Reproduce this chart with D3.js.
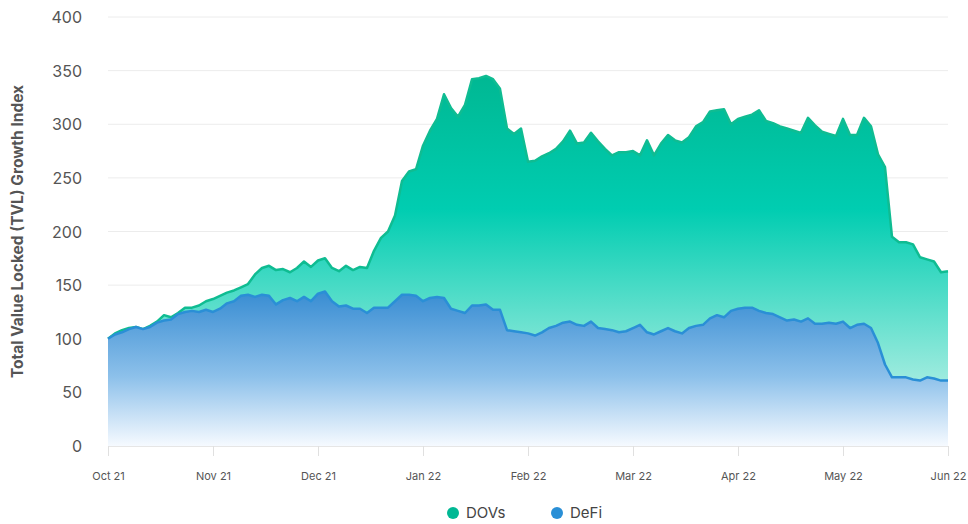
<!DOCTYPE html>
<html>
<head>
<meta charset="utf-8">
<script src="https://cdn.jsdelivr.net/npm/d3@7"></script>
<style>
  body { margin: 0; background: #fff; }
  text { font-family: Inter, "Noto Sans", sans-serif; }
</style>
</head>
<body>
<div id="chart"></div>
<script>
// month labels, one every 15 samples
const months = ["Oct 21", "Nov 21", "Dec 21", "Jan 22", "Feb 22", "Mar 22", "Apr 22", "May 22", "Jun 22"];
const yTicks = [0, 50, 100, 150, 200, 250, 300, 350, 400];

// growth index, sampled evenly from Oct 21 to Jun 22
const dovs = [
  100, 105, 108, 110, 111, 109, 112, 116, 122, 120, 124, 129, 129, 131, 135,
  137, 140, 143, 145, 148, 151, 160, 166, 168, 164, 165, 162, 166, 172, 167,
  173, 175, 166, 163, 168, 164, 167, 166, 182, 194, 200, 215, 247, 256, 258,
  280, 294, 305, 328, 315, 307, 318, 342, 343, 345, 342, 333, 296, 291, 296,
  265, 266, 270, 273, 277, 284, 294, 282, 283, 292, 284, 277, 271, 274, 274,
  275, 271, 285, 271, 282, 290, 285, 283, 288, 298, 302, 312, 313, 314, 300,
  305, 307, 309, 313, 303, 301, 298, 296, 294, 292, 306, 299, 293, 291, 289,
  305, 290, 290, 306, 298, 272, 260, 195, 190, 190, 188, 176, 174, 172, 162,
  163
];
const defi = [
  100, 104, 106, 109, 111, 109, 111, 115, 117, 118, 123, 125, 126, 125, 127,
  125, 128, 133, 135, 140, 141, 139, 141, 140, 132, 136, 138, 135, 139, 135,
  142, 144, 135, 130, 131, 128, 128, 124, 129, 129, 129, 135, 141, 141, 140,
  135, 138, 139, 138, 128, 126, 124, 131, 131, 132, 127, 127, 108, 107, 106,
  105, 103, 106, 110, 112, 115, 116, 113, 112, 116, 110, 109, 108, 106, 107,
  110, 113, 106, 104, 107, 110, 107, 105, 110, 112, 113, 119, 122, 120, 126,
  128, 129, 129, 126, 124, 123, 120, 117, 118, 116, 119, 114, 114, 115, 114,
  116, 110, 113, 114, 110, 96, 76, 64, 64, 64, 62, 61, 64, 63, 61,
  61
];

let width = 968, height = 524;
let margin = {top: 17, right: 20, bottom: 78, left: 108};

let svg = d3.select("#chart")
  .append("svg")
    .attr("width", width)
    .attr("height", height);

const X_SCALE = d3.scaleLinear()
  .domain([0, dovs.length - 1])
  .range([margin.left, 948]);

const Y_SCALE = d3.scaleLinear()
  .domain([0, 400])
  .range([446, margin.top]);

// gradients
let defs = svg.append("defs");
let g1 = defs.append("linearGradient")
  .attr("id", "gradDovs")
  .attr("gradientUnits", "userSpaceOnUse")
  .attr("x1", 0).attr("x2", 0)
  .attr("y1", Y_SCALE(345)).attr("y2", Y_SCALE(0));
g1.append("stop").attr("offset", "0%").attr("stop-color", "#00b893");
g1.append("stop").attr("offset", "36%").attr("stop-color", "#00cdb1");
g1.append("stop").attr("offset", "100%").attr("stop-color", "#dbf7f0");

let g2 = defs.append("linearGradient")
  .attr("id", "gradDefi")
  .attr("gradientUnits", "userSpaceOnUse")
  .attr("x1", 0).attr("x2", 0)
  .attr("y1", Y_SCALE(145)).attr("y2", Y_SCALE(0));
g2.append("stop").attr("offset", "0%").attr("stop-color", "#378cd2");
g2.append("stop").attr("offset", "55%").attr("stop-color", "#8cc0ea");
g2.append("stop").attr("offset", "100%").attr("stop-color", "#f6faff");

// gridlines
svg.append("g")
  .selectAll("line")
  .data(yTicks.slice(1))
  .enter()
  .append("line")
    .attr("x1", margin.left)
    .attr("x2", 948)
    .attr("y1", d => Y_SCALE(d))
    .attr("y2", d => Y_SCALE(d))
    .style("stroke", "#ececec")
    .style("stroke-width", 1);

// y axis
let yAxis = svg.append("g")
  .attr("transform", "translate(82,0)")
  .call(d3.axisLeft(Y_SCALE).tickValues(yTicks).tickSize(0).tickPadding(0));
yAxis.select(".domain").remove();
yAxis.selectAll("text")
  .style("font-size", "16px")
  .style("fill", "#555")
  .attr("dy", "0.35em");

svg.append("text")
  .attr("transform", "translate(23," + Y_SCALE(200) + ") rotate(-90)")
  .attr("text-anchor", "middle")
  .style("font-size", "15.5px")
  .style("font-weight", "bold")
  .style("fill", "#555")
  .text("Total Value Locked (TVL) Growth Index");

// areas and lines
let area = d3.area()
  .x((d, i) => X_SCALE(i))
  .y0(Y_SCALE(0))
  .y1(d => Y_SCALE(d));
let line = d3.line()
  .x((d, i) => X_SCALE(i))
  .y(d => Y_SCALE(d));

svg.append("path")
  .datum(dovs)
  .attr("d", area)
  .style("fill", "url(#gradDovs)");
svg.append("path")
  .datum(dovs)
  .attr("d", line)
  .style("fill", "none")
  .style("stroke", "#0fbc92")
  .style("stroke-width", 2.5)
  .style("stroke-linejoin", "round");

svg.append("path")
  .datum(defi)
  .attr("d", area)
  .style("fill", "url(#gradDefi)");
svg.append("path")
  .datum(defi)
  .attr("d", line)
  .style("fill", "none")
  .style("stroke", "#2a8fd6")
  .style("stroke-width", 2.5)
  .style("stroke-linejoin", "round");

// x axis
let xAxis = svg.append("g")
  .attr("transform", "translate(0," + Y_SCALE(0) + ")")
  .call(d3.axisBottom(X_SCALE)
    .tickValues(months.map((m, i) => i * 15))
    .tickFormat((d, i) => months[i])
    .tickSize(10)
    .tickPadding(16)
    .tickSizeOuter(0));
xAxis.select(".domain").style("stroke", "#e6e6e6");
xAxis.selectAll("line").style("stroke", "#e0e0e0");
xAxis.selectAll("text")
  .style("font-size", "11px")
  .style("fill", "#555");

// legend
const legendNames = ["DOVs", "DeFi"];
const legendColors = ["#00b894", "#2a8fd6"];
let legend = svg.append("g")
  .selectAll("g")
  .data(legendNames)
  .enter()
  .append("g")
    .attr("transform", (d, i) => "translate(" + (453 + i * 104) + ",513)");
legend.append("circle")
  .attr("r", 6)
  .style("fill", (d, i) => legendColors[i]);
legend.append("text")
  .attr("x", 13)
  .attr("dy", "0.35em")
  .style("font-size", "15px")
  .style("fill", "#444")
  .text(d => d);
</script>
</body>
</html>
